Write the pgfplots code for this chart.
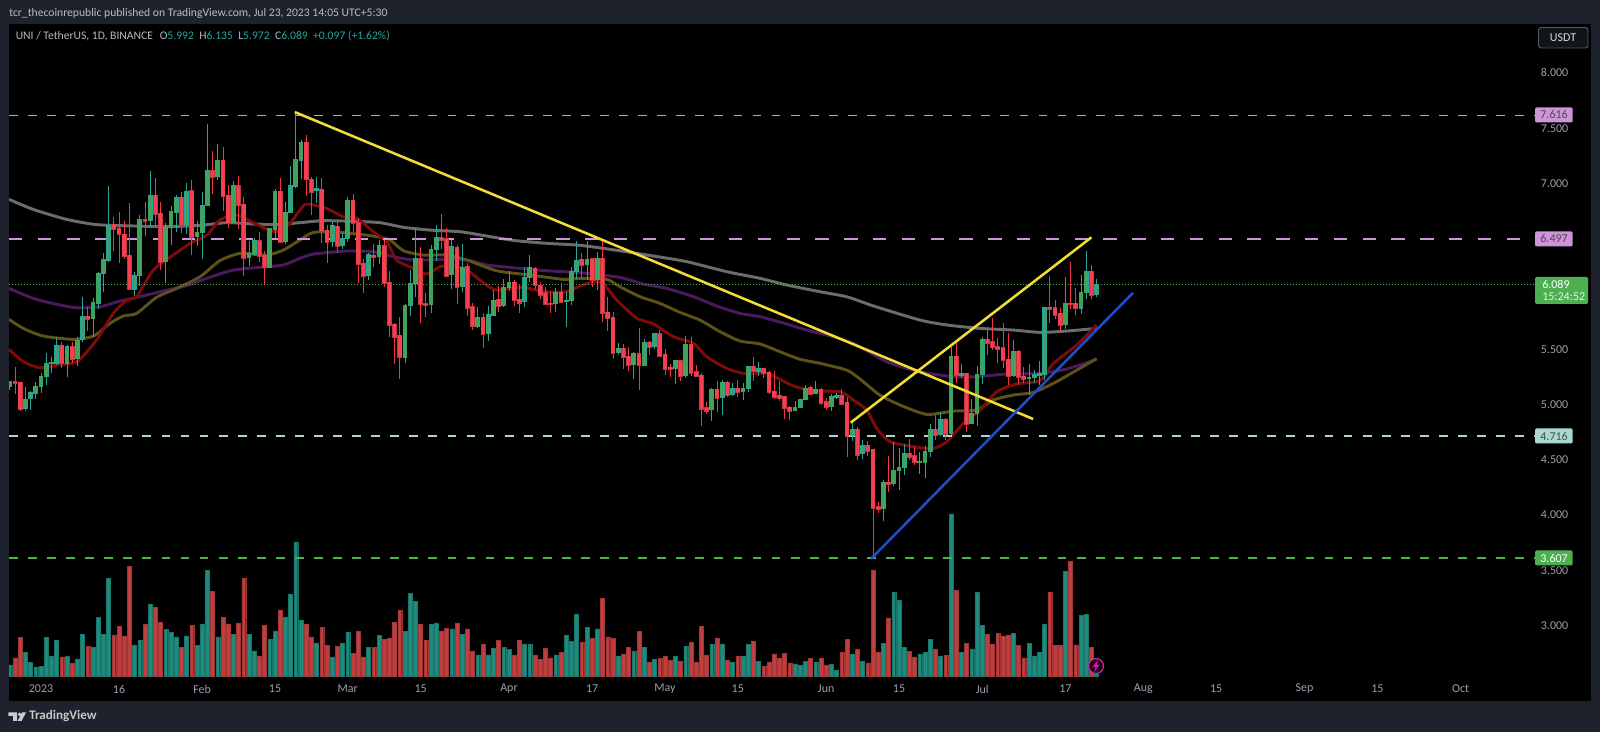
\documentclass[border=0pt]{standalone}
\usepackage{pgfplots}
\pgfplotsset{compat=1.18}
\usepackage{pgfplotstable}
\usepackage{fontspec}
\setmainfont{Carlito}
\definecolor{panel}{HTML}{1E222D}
\definecolor{tick}{HTML}{9DA0A8}
\definecolor{upw}{HTML}{26A69A}
\definecolor{upb}{HTML}{3FA35C}
\definecolor{dnw}{HTML}{F23645}
\definecolor{dnb}{HTML}{F5404F}
\definecolor{volup}{HTML}{1F8A7E}
\definecolor{voldn}{HTML}{BF3F3F}
\definecolor{ered}{HTML}{7F0A0A}
\definecolor{eolive}{HTML}{5C5218}
\definecolor{epurple}{HTML}{4A1A5C}
\definecolor{egray}{HTML}{6C6C6C}
\definecolor{pinkl}{HTML}{CE93D8}
\definecolor{tealp}{HTML}{A8D8D2}
\definecolor{greenl}{HTML}{4CAF50}
\definecolor{yel}{HTML}{F2DC36}
\definecolor{blu}{HTML}{1E4FC8}
\pgfplotstableread{
d o h l c
-6 5.161 5.215 5.130 5.209
-3 4.965 5.155 4.943 5.046
-2 5.049 5.121 4.949 5.106
-1 5.094 5.206 5.052 5.167
0 5.161 5.281 5.100 5.257
1 5.251 5.462 5.179 5.372
2 5.366 5.426 5.287 5.381
3 5.372 5.607 5.356 5.537
5 5.372 5.537 5.245 5.522
7 5.411 5.613 5.350 5.583
8 5.583 5.975 5.568 5.800
10 5.776 5.960 5.613 5.924
11 5.915 6.201 5.860 6.189
12 6.180 6.367 6.020 6.313
13 6.301 6.977 6.292 6.624
18 6.041 6.195 5.981 6.171
19 6.162 6.714 6.072 6.675
21 6.663 7.115 6.609 6.895
24 6.292 6.639 6.102 6.599
25 6.599 6.799 6.443 6.744
26 6.735 6.895 6.563 6.877
28 6.624 7.001 6.539 6.931
30 6.518 6.663 6.434 6.557
31 6.554 6.925 6.319 6.799
32 6.799 7.538 6.796 7.115
34 7.061 7.357 7.031 7.212
37 6.645 7.022 6.639 6.980
40 6.328 6.482 6.256 6.367
41 6.352 6.503 6.343 6.482
44 6.237 6.593 6.231 6.593
45 6.587 6.949 6.503 6.931
47 6.473 6.832 6.449 6.741
48 6.735 7.158 6.735 6.980
49 6.971 7.646 6.962 7.218
50 7.209 7.393 7.037 7.375
53 6.934 7.058 6.820 6.952
56 6.470 6.654 6.428 6.621
58 6.437 6.563 6.403 6.503
59 6.503 6.874 6.473 6.850
63 6.162 6.373 6.126 6.361
65 6.337 6.488 6.271 6.437
70 5.426 5.909 5.378 5.900
71 5.897 6.216 5.800 6.099
72 6.090 6.593 5.975 6.319
75 5.903 6.440 5.830 6.406
76 6.406 6.624 6.301 6.515
79 6.171 6.488 6.041 6.428
81 6.066 6.452 6.020 6.243
84 5.703 5.878 5.694 5.788
86 5.643 5.894 5.577 5.812
87 5.806 6.035 5.803 5.945
89 5.894 6.132 5.878 6.062
90 6.059 6.207 6.029 6.105
93 5.933 6.240 5.884 6.150
94 6.147 6.352 6.111 6.237
99 5.909 6.056 5.839 6.017
101 5.933 6.014 5.703 5.945
102 5.939 6.247 5.903 6.204
103 6.201 6.476 6.132 6.307
105 6.265 6.482 6.126 6.316
107 6.126 6.376 6.035 6.325
111 5.465 5.553 5.447 5.507
114 5.360 5.474 5.230 5.459
116 5.351 5.589 5.348 5.565
118 5.520 5.643 5.498 5.640
122 5.323 5.402 5.182 5.396
124 5.257 5.619 5.236 5.547
129 4.955 5.145 4.853 5.139
131 5.064 5.218 4.904 5.200
133 5.091 5.194 5.076 5.142
135 5.112 5.191 5.040 5.148
136 5.145 5.351 5.112 5.348
138 5.299 5.384 5.260 5.323
145 4.943 5.028 4.943 4.973
146 4.970 5.046 4.967 5.046
147 5.040 5.176 5.037 5.148
149 5.094 5.209 5.091 5.136
152 4.979 5.094 4.943 5.073
153 5.061 5.103 5.046 5.082
156 4.714 4.835 4.672 4.774
158 4.551 4.678 4.503 4.633
162 4.056 4.316 3.945 4.298
164 4.286 4.657 4.261 4.406
165 4.400 4.608 4.225 4.433
166 4.427 4.642 4.361 4.560
169 4.470 4.572 4.370 4.482
170 4.473 4.623 4.331 4.575
171 4.569 4.820 4.527 4.774
173 4.723 4.928 4.714 4.868
175 4.732 5.522 4.723 5.438
177 5.263 5.366 5.236 5.284
179 4.826 5.046 4.820 4.919
180 4.913 5.351 4.807 5.275
181 5.269 5.613 5.182 5.592
187 5.260 5.583 5.251 5.483
190 5.233 5.366 5.085 5.242
191 5.242 5.311 5.191 5.269
192 5.263 5.393 5.176 5.278
193 5.266 5.885 5.221 5.879
197 5.719 6.153 5.685 5.915
200 5.869 6.171 5.818 6.014
201 6.011 6.388 5.951 6.207
203 5.992 6.135 5.972 6.089
}\upT
\pgfplotstableread{
d o h l c
-5 5.206 5.336 5.094 5.191
-4 5.200 5.206 4.943 4.961
4 5.535 5.568 5.332 5.372
6 5.522 5.568 5.372 5.408
9 5.800 5.884 5.667 5.776
14 6.630 6.693 6.388 6.587
15 6.593 6.744 6.277 6.539
16 6.539 6.660 6.313 6.343
17 6.352 6.826 6.035 6.041
20 6.675 6.835 6.524 6.657
22 6.895 7.046 6.624 6.720
23 6.729 6.832 6.216 6.292
27 6.877 6.925 6.548 6.624
29 6.934 7.031 6.352 6.518
33 7.115 7.296 6.904 7.061
35 7.212 7.330 6.750 6.889
36 6.895 6.986 6.593 6.645
38 6.980 7.067 6.584 6.808
39 6.814 6.874 6.165 6.328
42 6.482 6.563 6.292 6.343
43 6.352 6.391 6.090 6.240
46 6.931 7.046 6.473 6.473
51 7.375 7.438 6.889 7.037
52 7.040 7.055 6.714 6.925
54 6.949 7.052 6.464 6.572
55 6.578 6.624 6.277 6.470
57 6.612 6.648 6.373 6.437
60 6.850 6.904 6.563 6.639
61 6.645 6.684 6.102 6.271
62 6.280 6.313 6.011 6.162
64 6.352 6.449 6.247 6.337
66 6.437 6.488 6.066 6.099
67 6.105 6.207 5.607 5.722
68 5.728 5.734 5.363 5.613
69 5.628 5.794 5.233 5.426
73 6.319 6.428 5.734 5.909
74 5.912 6.005 5.788 5.900
77 6.509 6.723 6.406 6.488
78 6.500 6.593 6.156 6.165
80 6.425 6.443 5.906 6.066
82 6.250 6.277 5.803 5.872
83 5.884 5.915 5.673 5.709
85 5.788 5.824 5.513 5.640
88 5.951 6.072 5.836 5.894
91 6.108 6.126 5.894 5.945
92 5.954 6.087 5.824 5.921
95 6.231 6.240 6.041 6.078
96 6.078 6.108 5.954 5.990
97 6.011 6.059 5.906 5.909
98 5.918 6.020 5.824 5.909
100 6.017 6.102 5.915 5.930
104 6.313 6.367 6.132 6.265
106 6.319 6.322 6.066 6.126
108 6.325 6.494 5.749 5.830
109 5.836 5.969 5.667 5.785
110 5.788 5.833 5.414 5.468
112 5.507 5.544 5.317 5.426
113 5.438 5.523 5.299 5.357
115 5.459 5.688 5.130 5.357
117 5.565 5.577 5.447 5.520
119 5.640 5.673 5.438 5.441
120 5.453 5.501 5.266 5.320
121 5.335 5.366 5.245 5.323
123 5.396 5.402 5.212 5.257
125 5.547 5.610 5.260 5.281
126 5.296 5.357 5.245 5.257
127 5.263 5.281 4.804 4.958
128 4.970 5.022 4.913 4.943
130 5.136 5.212 4.928 5.061
132 5.203 5.212 5.064 5.088
134 5.145 5.221 5.064 5.112
137 5.348 5.429 5.212 5.299
139 5.326 5.332 5.242 5.284
140 5.293 5.299 5.091 5.112
141 5.118 5.299 5.052 5.070
142 5.082 5.212 5.034 5.058
143 5.073 5.076 4.871 4.967
144 4.973 4.988 4.859 4.943
148 5.154 5.170 5.085 5.094
150 5.139 5.145 4.998 5.016
151 5.025 5.055 4.949 4.973
154 5.085 5.136 4.992 5.004
155 5.019 5.064 4.527 4.714
157 4.774 4.792 4.497 4.542
159 4.633 4.669 4.533 4.581
160 4.593 4.593 3.607 4.065
161 4.074 4.114 4.014 4.056
163 4.298 4.533 4.210 4.280
167 4.560 4.687 4.497 4.521
168 4.536 4.611 4.451 4.482
172 4.774 4.904 4.678 4.723
174 4.868 4.874 4.678 4.732
176 5.438 5.553 5.191 5.263
178 5.284 5.287 4.747 4.826
182 5.589 5.698 5.447 5.559
183 5.568 5.785 5.492 5.517
184 5.523 5.604 5.372 5.501
185 5.513 5.734 5.326 5.402
186 5.411 5.649 5.179 5.260
188 5.483 5.492 5.176 5.245
189 5.257 5.341 5.191 5.230
194 5.879 6.162 5.740 5.866
195 5.876 5.945 5.770 5.812
196 5.824 5.869 5.664 5.719
198 5.918 6.289 5.863 5.912
199 5.918 6.050 5.809 5.869
202 6.207 6.262 5.954 5.987
}\dnT
\begin{document}
\begin{tikzpicture}
\useasboundingbox (0,0) rectangle (1200pt,549pt);
\fill[panel] (0,0) rectangle (1200pt,549pt);
\fill[black] (6.75pt,23.25pt) rectangle (1193.25pt,531pt);
% volume pane
\begin{axis}[at={(6.75pt,23.25pt)},anchor=south west,width=1186.5pt,height=507.75pt,scale only axis,
  xmin=-6.154,xmax=298.08,ymin=-24.3,ymax=652.7,hide axis]
\addplot[ybar,bar width=2.9pt,bar shift=0pt,fill=volup,draw=volup!85!black,line width=.3pt] coordinates {
(-6,11.7)(-3,24)(-2,14.3)(-1,9.3)(0,10)(1,39.3)(2,20.7)(3,36.3)(5,20.7)(7,17.3)(8,42.3)(10,29.3)(11,59)(12,42.3)(13,98)
(18,31.7)(19,36.3)(21,72.7)(24,47.3)(25,44.3)(26,39.7)(28,40.7)(30,31)(31,52.7)(32,106)(34,39.7)(37,42.3)(40,42.3)(41,25.7)
(44,37.3)(45,45.7)(47,59.7)(48,82.7)(49,134.7)(50,56.3)(53,33.7)(56,19.7)(58,33.7)(59,44.3)
(63,29.3)(65,41.3)(70,45)(71,83.3)(72,75.3)(75,52)(76,53.7)(79,47.7)(81,42.3)(84,21.7)(86,21.7)(87,28.3)(89,29.3)(90,27.3)
(93,32.7)(94,32)(99,21.7)(101,41.3)(102,35.3)(103,62.3)(105,49.3)(107,47.7)(111,20.7)(114,25.7)(116,29.3)(118,17.3)(122,20.7)
(124,30.3)(129,32)(131,32.7)(133,14)(135,20)(136,32)(138,15.3)(145,12.7)(146,11.7)(147,15.3)(149,14.7)(152,12.7)(153,6.7)
(156,22.7)(158,15.3)(162,33.3)(164,84.3)(165,76.3)(166,29.3)(169,22.7)(170,24)(171,37.3)(173,20.7)(175,162.7)(177,24)(179,27.7)
(180,84.3)(181,51)(187,43.3)(190,33.3)(191,20.7)(192,24)(193,52.7)(197,105.3)(200,61.3)(201,62.3)(203,2)};
\addplot[ybar,bar width=2.9pt,bar shift=0pt,fill=voldn,draw=voldn!85!black,line width=.3pt] coordinates {
(-5,18.7)(-4,39.3)(4,19.7)(6,13.7)(9,30.3)(14,41.7)(15,50.3)(16,40.7)(17,110.3)(20,52.7)(22,69.3)(23,54.7)(27,29.3)(29,51.3)
(33,85)(35,59)(36,52.7)(38,53.7)(39,98)(42,20.7)(43,51.3)(46,66.7)(51,52.7)(52,39.7)(54,49.3)(55,31)(57,30.3)(60,23.3)(61,45.7)
(62,19.7)(64,29.3)(66,37.3)(67,38.7)(68,54.7)(69,66)(73,52.7)(74,36.3)(77,45.7)(78,48.3)(80,53.7)(82,47.7)(83,25.7)(85,32)
(88,36.3)(91,21.7)(92,36.3)(95,21.7)(96,17.3)(97,28.3)(98,18.7)(100,24.3)(104,34.7)(106,38)(108,78)(109,39.7)(110,38)
(112,22.3)(113,29.3)(115,45)(117,14.7)(119,18)(120,20.7)(121,16.7)(123,15.3)(125,34.7)(126,14.7)(127,50.3)(128,21.7)(130,38.7)
(132,16.7)(134,20.7)(137,35.3)(139,10.3)(140,14.7)(141,22.7)(142,18.7)(143,23.3)(144,13.7)(148,18)(150,18)(151,11.7)(154,24.7)
(155,37.3)(157,27.7)(159,13.7)(160,106.7)(161,24)(163,58.7)(167,25.3)(168,19.7)(172,27.7)(174,21.3)(176,86)(178,33.3)
(182,42.3)(183,32.7)(184,43.3)(185,40.7)(186,41.7)(188,31)(189,18.7)(194,84.3)(195,31)(196,31)(198,115.7)(199,31.7)(202,29.3)};
\end{axis}
% price pane
\begin{axis}[at={(6.75pt,23.25pt)},anchor=south west,width=1186.5pt,height=507.75pt,scale only axis,
  xmin=-6.154,xmax=298.08,ymin=2.316,ymax=8.443,
  axis line style={draw=none},tick style={draw=none},
  font=\fontsize{9pt}{11pt}\selectfont,
  xtick={0,15,31,45,59,73,90,106,120,134,151,165,181,197,212,226,243,257,273},
  xticklabels={2023,16,Feb,15,Mar,15,Apr,17,May,15,Jun,15,Jul,17,Aug,15,Sep,15,Oct},
  xticklabel style={anchor=center,yshift=9pt,text=tick},
  ytick={3,3.5,4,4.5,5,5.5,7,7.5,8},
  yticklabels={3.000,3.500,4.000,4.500,5.000,5.500,7.000,7.500,8.000},
  ytick pos=right,yticklabel pos=right,
  yticklabel style={anchor=east,xshift=-13.5pt,text=tick},
  ]
% moving averages
\addplot[egray,line width=2.2pt,smooth,tension=.4] coordinates {(-6.15,6.856)(-1.5,6.765)(4.9,6.675)(10.7,6.627)(17.8,6.615)(24.2,6.609)(30.6,6.621)(35.7,6.645)(40.8,6.633)(45.3,6.627)(49.8,6.645)(54.3,6.663)(60.1,6.657)(65.2,6.645)(69.7,6.603)(74.8,6.578)(80.6,6.563)(85.7,6.524)(90.8,6.485)(97.2,6.458)(103.7,6.440)(111.3,6.391)(117.8,6.343)(124.2,6.292)(131.9,6.201)(138.3,6.141)(143.4,6.081)(149.8,6.020)(154.9,5.975)(160.1,5.891)(169,5.764)(174.2,5.719)(180.6,5.688)(187,5.673)(192.1,5.652)(197.2,5.664)(203,5.688)};
\addplot[epurple,line width=2.2pt,smooth,tension=.4] coordinates {(-6.15,6.050)(-1.5,5.960)(3,5.906)(6.9,5.875)(11.3,5.884)(15.2,5.936)(19,5.975)(22.9,6.020)(28,6.075)(31.9,6.141)(37,6.216)(43.4,6.246)(46.6,6.262)(49.8,6.322)(52.4,6.361)(58.8,6.388)(63.9,6.382)(67.8,6.337)(71.6,6.307)(78,6.313)(81.9,6.307)(85.7,6.262)(90.8,6.237)(97.2,6.210)(103.7,6.192)(111.3,6.150)(115.8,6.090)(120.3,6.050)(125.5,5.975)(129.9,5.891)(134.4,5.824)(138.3,5.794)(143.4,5.728)(147.2,5.673)(151.1,5.628)(156.2,5.553)(162.6,5.387)(169,5.296)(175.5,5.251)(179.9,5.251)(185.7,5.275)(192.1,5.281)(197.2,5.320)(203,5.408)};
\addplot[eolive,line width=2.2pt,smooth,tension=.4] coordinates {(-6.15,5.770)(-3.4,5.688)(.4,5.619)(6.2,5.589)(10.1,5.619)(13.3,5.734)(15.8,5.800)(18.4,5.824)(22.2,5.969)(26.1,6.050)(30.6,6.156)(34.4,6.301)(38.3,6.367)(43.4,6.352)(46.6,6.397)(49.8,6.488)(52.4,6.557)(57.5,6.557)(63.9,6.524)(67.1,6.488)(69.7,6.391)(73.5,6.352)(78,6.352)(81.9,6.307)(87.6,6.210)(94,6.171)(100.5,6.132)(103.7,6.141)(108.8,6.132)(111.3,6.066)(115.2,5.975)(119,5.915)(122.9,5.833)(126.7,5.764)(130.6,5.658)(134.4,5.574)(138.3,5.547)(142.1,5.477)(146,5.408)(149.8,5.372)(154.9,5.311)(157.5,5.230)(161.3,5.085)(165.2,4.995)(170.3,4.910)(175.5,4.940)(179.9,4.949)(183.1,5.040)(187,5.085)(190.8,5.109)(194.7,5.191)(199.2,5.311)(203,5.414)};
\addplot[ered,line width=2.2pt,smooth,tension=.4] coordinates {(-6.15,5.498)(-3.4,5.387)(-.2,5.332)(3,5.356)(6.9,5.387)(10.7,5.583)(13.9,5.824)(16.5,5.945)(18.4,5.975)(21.6,6.216)(25.4,6.352)(28.7,6.458)(31.9,6.533)(34.4,6.669)(37.6,6.714)(42.1,6.615)(45.3,6.563)(47.9,6.639)(49.8,6.759)(51.1,6.814)(54.9,6.774)(58.1,6.699)(60.7,6.684)(63.9,6.563)(66.5,6.473)(68.4,6.307)(71.6,6.231)(74.2,6.180)(76.7,6.247)(79.3,6.256)(81.9,6.216)(85.4,6.090)(87.6,6.035)(92.1,6.059)(97.2,6.020)(101,6.020)(103.7,6.072)(106.2,6.111)(108.1,6.096)(110.7,5.945)(114.6,5.779)(117.8,5.728)(121.6,5.613)(125.5,5.553)(128,5.432)(131.9,5.326)(135.7,5.275)(139.6,5.281)(144.7,5.167)(148.5,5.124)(153.7,5.115)(156.2,5.040)(158.8,4.949)(160.7,4.783)(163.3,4.663)(167.8,4.617)(171.6,4.602)(174.2,4.663)(177.4,4.829)(180.6,4.949)(183.8,5.115)(187.6,5.185)(192.1,5.215)(194.7,5.372)(199.2,5.538)(203,5.719)};
% horizontal levels
\addplot[pinkl,line width=1.3pt,dash pattern=on 6.6pt off 7.7pt] coordinates {(-6.154,7.616)(287.3,7.616)};
\addplot[pinkl,line width=2pt,dash pattern=on 10pt off 11.6pt] coordinates {(-6.154,6.497)(287.3,6.497)};
\addplot[tealp,line width=1.3pt,dash pattern=on 6.6pt off 7.7pt] coordinates {(-6.154,4.716)(287.3,4.716)};
\addplot[greenl,line width=1.3pt,dash pattern=on 6.6pt off 7.7pt] coordinates {(-6.154,3.607)(287.3,3.607)};
\addplot[greenl,line width=.6pt,dash pattern=on .75pt off 1.5pt] coordinates {(-6.154,6.089)(287.3,6.089)};
% candles: wicks, then bodies
\addplot[draw=none,mark=none,error bars/.cd,y dir=both,y explicit,error mark=none,error bar style={draw=upw,line width=.75pt}]
 table[x=d,y=c,y error plus expr=\thisrow{h}-\thisrow{c},y error minus expr=\thisrow{c}-\thisrow{l}] {\upT};
\addplot[draw=none,mark=none,error bars/.cd,y dir=both,y explicit,error mark=none,error bar style={draw=dnw,line width=.75pt}]
 table[x=d,y=c,y error plus expr=\thisrow{h}-\thisrow{c},y error minus expr=\thisrow{c}-\thisrow{l}] {\dnT};
\addplot[draw=none,mark=none,error bars/.cd,y dir=both,y explicit,error mark=none,error bar style={draw=upw,line width=3.6pt}]
 table[x=d,y=c,y error plus expr=0.004,y error minus expr=\thisrow{c}-\thisrow{o}+0.004] {\upT};
\addplot[draw=none,mark=none,error bars/.cd,y dir=both,y explicit,error mark=none,error bar style={draw=upb,line width=2.8pt}]
 table[x=d,y=c,y error plus expr=0,y error minus expr=\thisrow{c}-\thisrow{o}] {\upT};
\addplot[draw=none,mark=none,error bars/.cd,y dir=both,y explicit,error mark=none,error bar style={draw=dnb!80!black,line width=3.6pt}]
 table[x=d,y=c,y error plus expr=\thisrow{o}-\thisrow{c}+0.004,y error minus expr=0.004] {\dnT};
\addplot[draw=none,mark=none,error bars/.cd,y dir=both,y explicit,error mark=none,error bar style={draw=dnb,line width=2.8pt}]
 table[x=d,y=c,y error plus expr=\thisrow{o}-\thisrow{c},y error minus expr=0] {\dnT};
% trend lines
\addplot[yel,line width=1.9pt] coordinates {(48.8,7.646)(190.8,4.868)};
\addplot[yel,line width=1.9pt] coordinates {(155.7,4.835)(202,6.512)};
\addplot[blu,line width=1.9pt] coordinates {(159.7,3.607)(210,6.010)};
\end{axis}
% labels and furniture, in reference pixels
\begin{scope}[x=.75pt,y=-.75pt,yshift=549pt,every node/.style={inner sep=0pt,font=\fontsize{9pt}{11pt}\selectfont}]
\node[anchor=west,text=tick!70!white,font=\fontsize{8.72pt}{11pt}\selectfont] at (9,13) {tcr\_thecoinrepublic published on TradingView.com, Jul 23, 2023 14:05 UTC+5:30};
\node[anchor=west,text=tick!75!white,font=\fontsize{8.72pt}{11pt}\selectfont] at (15.5,36) {UNI / TetherUS, 1D, BINANCE\hspace{5pt}O\textcolor{upw}{5.992}\hspace{4pt}H\textcolor{upw}{6.135}\hspace{4pt}L\textcolor{upw}{5.972}\hspace{4pt}C\textcolor{upw}{6.089}\hspace{4pt}\textcolor{upw}{+0.097 (+1.62\%)}};
\filldraw[fill=panel!60!black,draw=gray!60!panel,line width=.7pt,rounded corners=2pt] (1538.5,27.5) rectangle (1588,48);
\node[text=white!85!black] at (1563,38) {USDT};
\foreach \yy/\cc/\tt/\tc in {115/pinkl/7.616/black!70,239/pinkl/6.497/black!70,436/tealp/4.716/black!70,558/greenl/3.607/white}{
  \fill[\cc,rounded corners=1pt] (1535,\yy-7.5) rectangle (1572.7,\yy+7.5);
  \node[text=\tc,anchor=east] at (1568,\yy) {\tt};
}
\fill[greenl,rounded corners=1pt] (1535,277) rectangle (1588,304);
\node[text=white,anchor=west] at (1542,284.5) {6.089};
\node[text=white!85!greenl,anchor=west] at (1542,297) {15:24:52};
% bolt badge
\filldraw[fill=black!75!purple,draw=violet!60!magenta!80!white,line width=.8pt] (1096,666) circle (7.5);
\fill[violet!50!magenta!90!white] (1098,660)--(1092.5,667)--(1095.5,667)--(1094,672)--(1099.5,665)--(1096.5,665)--cycle;
% footer logo and name
\fill[white!80!black] (8.3,712.5)--(17,712.5)--(17,721)--(13,721)--(13,716)--(8.3,716)--cycle;
\fill[white!80!black] (19.7,714.4) circle (1.9);
\fill[white!80!black] (26,712.5)--(21.5,721)--(17.6,721)--(22,712.5)--cycle;
\node[anchor=west,text=white!78!black,font=\fontsize{9.8pt}{11pt}\selectfont\bfseries] at (29,716.5) {TradingView};
\end{scope}
\end{tikzpicture}
\end{document}
